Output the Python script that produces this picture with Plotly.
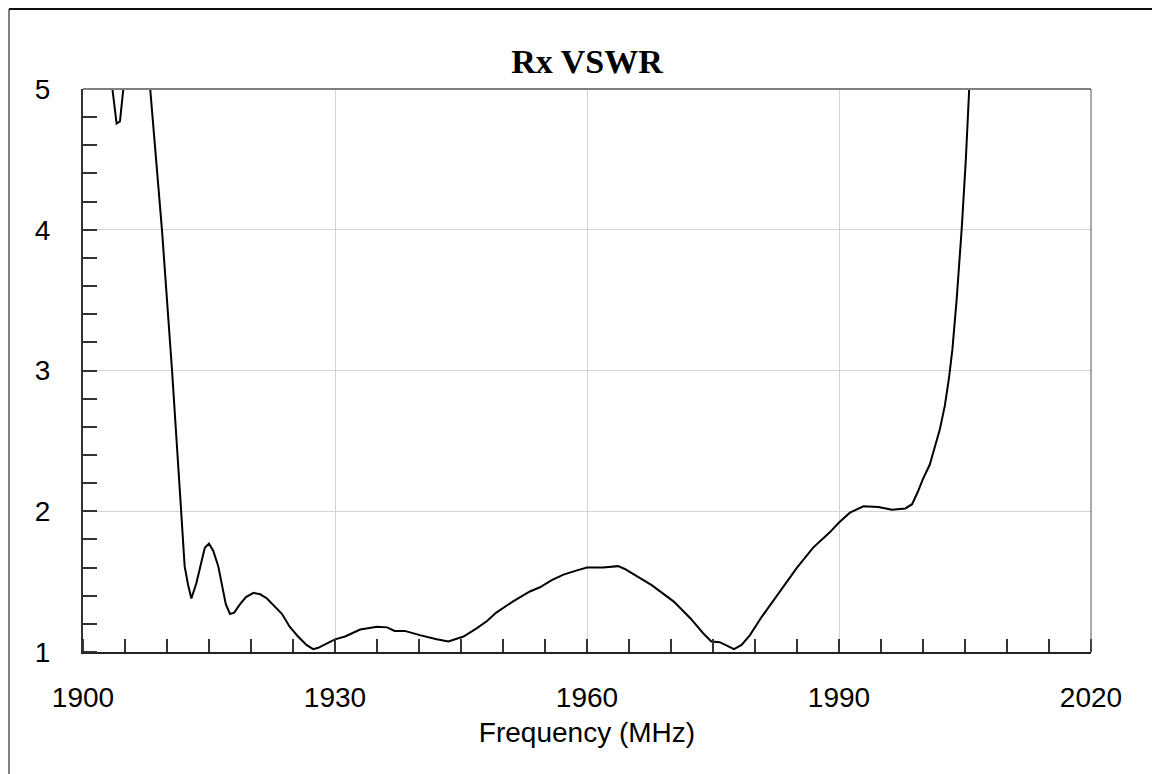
# Rx VSWR sweep
import plotly.graph_objects as go

# frequency points (MHz) and VSWR read from the sweep
freq = [1903.0, 1903.5, 1904.0, 1904.4, 1904.8, 1905.5, 1907.0, 1908.0, 1909.4, 1910.6,
        1911.6, 1912.1, 1912.5, 1912.9, 1913.5, 1914.05, 1914.5, 1915.0, 1915.5, 1916.1,
        1916.6, 1917.0, 1917.5, 1918.0, 1918.7, 1919.4, 1920.3, 1921.1, 1921.9, 1922.9,
        1923.7, 1924.6, 1925.6, 1926.6, 1927.4, 1928.0, 1929.0, 1930.0, 1931.2, 1933.0,
        1935.0, 1936.2, 1937.1, 1938.3, 1940.1, 1942.1, 1943.5, 1945.3, 1946.9, 1948.1,
        1949.2, 1951.2, 1953.2, 1954.4, 1955.8, 1957.2, 1958.8, 1960.0, 1961.9, 1963.7,
        1964.5, 1965.9, 1967.7, 1970.3, 1972.3, 1973.8, 1974.8, 1975.8, 1976.6, 1977.5,
        1978.4, 1979.4, 1980.8, 1982.6, 1985.0, 1986.9, 1988.9, 1990.0, 1991.3, 1992.9,
        1994.7, 1996.3, 1997.9, 1998.7, 1999.4, 2000.0, 2000.8, 2002.0, 2002.6, 2003.1,
        2003.5, 2004.0, 2004.6, 2005.1, 2005.6, 2006.3]
vswr = [6.0, 5.0, 4.755, 4.77, 5.0, 6.0, 6.0, 5.0, 4.0, 3.0,
        2.08, 1.61, 1.48, 1.38, 1.49, 1.64, 1.74, 1.77, 1.72, 1.61,
        1.47, 1.34, 1.27, 1.28, 1.34, 1.39, 1.42, 1.41, 1.38, 1.32,
        1.27, 1.18, 1.11, 1.05, 1.02, 1.03, 1.06, 1.09, 1.11, 1.16,
        1.18, 1.175, 1.15, 1.15, 1.12, 1.09, 1.075, 1.11, 1.17, 1.22,
        1.28, 1.36, 1.43, 1.46, 1.51, 1.55, 1.58, 1.60, 1.60, 1.61,
        1.59, 1.54, 1.475, 1.36, 1.24, 1.135, 1.075, 1.07, 1.045, 1.02,
        1.05, 1.12, 1.25, 1.40, 1.60, 1.74, 1.85, 1.92, 1.99, 2.035,
        2.03, 2.01, 2.02, 2.05, 2.14, 2.23, 2.33, 2.58, 2.75, 2.95,
        3.15, 3.5, 4.0, 4.5, 5.0, 6.0]

x_ticks = [1900, 1930, 1960, 1990, 2020]
y_ticks = [1, 2, 3, 4, 5]

FONT = "Arial, Liberation Sans, sans-serif"

fig = go.Figure(go.Scatter(x=freq, y=vswr, mode="lines",
                           line=dict(color="black", width=2)))

# page has an 8px body margin, so the figure itself starts at (8, 8)
fig.update_layout(
    width=1160, height=774,
    margin=dict(l=75, r=77, t=81, b=130),
    paper_bgcolor="white", plot_bgcolor="white",
    showlegend=False,
    font=dict(family=FONT, size=28, color="black"),
    title=dict(text="<b>Rx VSWR</b>", x=0.5, xref="paper", y=1 - 65 / 774, yanchor="bottom",
               font=dict(family="Liberation Serif, Times New Roman, serif", size=34)),
)

fig.update_xaxes(
    range=[1900, 2020], tickvals=x_ticks, ticks="", showgrid=True,
    gridcolor="#d3d3d3", gridwidth=1, zeroline=False,
    showline=True, linecolor="#222", linewidth=2,
    tickfont=dict(family=FONT, size=28),
    ticklabelstandoff=19,
    minor=dict(dtick=5, tick0=1900, ticks="inside", ticklen=13, tickcolor="#333",
               tickwidth=1.5, showgrid=False),
    title=dict(text="Frequency (MHz)", standoff=11, font=dict(family=FONT, size=28)),
    automargin=False,
)
fig.update_yaxes(
    range=[1, 5], tickvals=y_ticks, ticks="", showgrid=True,
    gridcolor="#d3d3d3", gridwidth=1, zeroline=False,
    showline=True, linecolor="#333", linewidth=2,
    tickfont=dict(family=FONT, size=28),
    ticklabelstandoff=25,
    minor=dict(dtick=0.2, tick0=1, ticks="inside", ticklen=14, tickcolor="#333",
               tickwidth=1.5, showgrid=False),
    automargin=False,
)

# top and right edges of the plot box, and the outer frame
fig.add_shape(type="line", xref="paper", yref="paper", x0=0, x1=1, y0=1, y1=1,
              line=dict(color="#808080", width=2))
fig.add_shape(type="line", xref="paper", yref="paper", x0=1, x1=1, y0=0, y1=1,
              line=dict(color="#555", width=1))
fx = -74 / 1008
fy = 1 + 80 / 563
fig.add_shape(type="line", xref="paper", yref="paper", x0=fx, x1=fx, y0=-0.3, y1=fy,
              line=dict(color="#808080", width=2))
fig.add_shape(type="line", xref="paper", yref="paper", x0=fx, x1=1.2, y0=fy, y1=fy,
              line=dict(color="#111", width=2))

fig.write_html("out.html")
